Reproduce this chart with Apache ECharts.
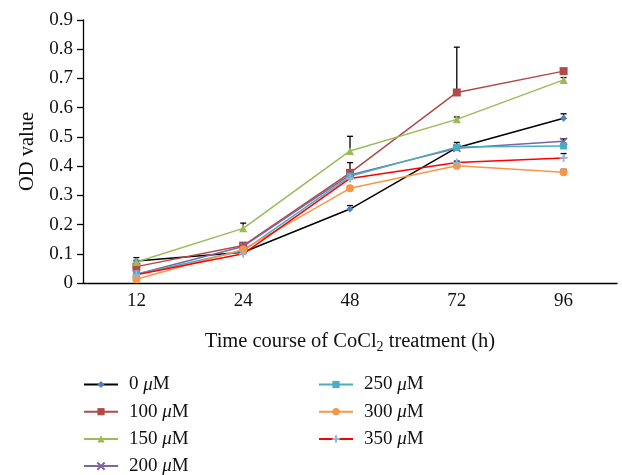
<!DOCTYPE html>
<html>
<head>
<meta charset="utf-8">
<script src="https://cdn.jsdelivr.net/npm/echarts@6/dist/echarts.min.js"></script>
<style>
  html, body { margin: 0; padding: 0; background: #fff; }
  #main { width: 622px; height: 475px; }
</style>
</head>
<body>
<div id="main"></div>
<script>
// time points (h)
var hours = ['12', '24', '48', '72', '96'];
var yTicks = [0, 0.1, 0.2, 0.3, 0.4, 0.5, 0.6, 0.7, 0.8, 0.9];

// OD values per CoCl2 dose
var od0   = [0.075, 0.105, 0.253, 0.463, 0.564];
var od100 = [0.056, 0.128, 0.377, 0.652, 0.725];
var od150 = [0.072, 0.187, 0.452, 0.560, 0.695];
var od200 = [0.030, 0.125, 0.370, 0.461, 0.485];
var od250 = [0.030, 0.110, 0.365, 0.465, 0.469];
var od300 = [0.013, 0.115, 0.324, 0.401, 0.379];
var od350 = [0.028, 0.100, 0.358, 0.412, 0.428];

// upper error (SD)
var err0   = [0.012, 0.005, 0.012, 0.018, 0.015];
var err100 = [0.005, 0.005, 0.035, 0.155, 0.008];
var err150 = [0.005, 0.018, 0.050, 0.008, 0.008];
var err200 = [0.004, 0.004, 0.008, 0.005, 0.008];
var err250 = [0.004, 0.004, 0.008, 0.008, 0.008];
var err300 = [0.004, 0.004, 0.008, 0.005, 0.010];
var err350 = [0.004, 0.004, 0.008, 0.005, 0.015];

var names = ['0 μM', '100 μM', '150 μM', '200 μM', '250 μM', '300 μM', '350 μM'];
var values = [od0, od100, od150, od200, od250, od300, od350];
var errors = [err0, err100, err150, err200, err250, err300, err350];

var lineColors = ['#000000', '#B04A47', '#9BBB59', '#8064A2', '#4BACC6', '#F79646', '#FF0000'];
var markColors = ['#4F81BD', '#B04A47', '#9BBB59', '#8064A2', '#4BACC6', '#F79646', '#95B3D7'];
var symbols = [
  'diamond', 'rect', 'triangle',
  'path://M0,0 L2,2 M2,0 L0,2',
  'rect', 'circle',
  'path://M1,0 L1,2 M0,1 L2,1'
];
var symbolSizes = [7, 8, 8, 7, 7, 8, 8];

var serif = '"Liberation Serif", "DejaVu Serif", serif';

var series = [];
// error bars first (drawn under the lines)
for (var i = 0; i < names.length; i++) {
  var ed = [];
  for (var k = 0; k < hours.length; k++) {
    ed.push([k, values[i][k], values[i][k] + errors[i][k]]);
  }
  series.push({
    type: 'custom',
    name: 'err' + i,
    data: ed,
    z: 1,
    silent: true,
    renderItem: function (params, api) {
      var p0 = api.coord([api.value(0), api.value(1)]);
      var p1 = api.coord([api.value(0), api.value(2)]);
      var style = { stroke: '#000', lineWidth: 1.3 };
      return {
        type: 'group',
        children: [
          { type: 'line', shape: { x1: p0[0], y1: p0[1], x2: p1[0], y2: p1[1] }, style: style },
          { type: 'line', shape: { x1: p1[0] - 3, y1: p1[1], x2: p1[0] + 3, y2: p1[1] }, style: style }
        ]
      };
    }
  });
}
for (var j = 0; j < names.length; j++) {
  var sym = symbols[j];
  var isPath = sym.indexOf('path://') === 0;
  series.push({
    type: 'line',
    name: names[j],
    data: values[j],
    z: 2,
    symbol: sym,
    symbolSize: symbolSizes[j],
    showSymbol: true,
    lineStyle: { color: lineColors[j], width: 1.5 },
    itemStyle: isPath
      ? { color: 'none', borderColor: markColors[j], borderWidth: 1.8 }
      : { color: markColors[j], borderColor: markColors[j], borderWidth: 0 },
    color: lineColors[j]
  });
}

var legendText = {
  fontFamily: serif,
  fontSize: 19,
  color: '#111',
  lineHeight: 19,
  padding: [0, 0, 0, 6],
  rich: { i: { fontFamily: serif, fontStyle: 'italic', fontSize: 19, color: '#111' } }
};
function legendFmt(n) { return n.replace('μ', '{i|μ}'); }

var chart = echarts.init(document.getElementById('main'));
chart.setOption({
  backgroundColor: '#fff',
  animation: false,
  grid: { left: 83, right: 5, top: 20, bottom: 192, containLabel: false },
  legend: [
    {
      orient: 'vertical', left: 83, top: 375, height: 120, padding: 0,
      itemWidth: 34, itemHeight: 9, itemGap: 8.2,
      data: names.slice(0, 4), formatter: legendFmt, textStyle: legendText
    },
    {
      orient: 'vertical', left: 318, top: 375, height: 120, padding: 0,
      itemWidth: 34, itemHeight: 9, itemGap: 8.2,
      data: names.slice(4), formatter: legendFmt, textStyle: legendText
    }
  ],
  xAxis: {
    type: 'category',
    data: hours,
    boundaryGap: true,
    name: '{a|Time course of CoCl}{s|2}{a| treatment (h)}',
    nameLocation: 'middle',
    nameGap: 46,
    nameTextStyle: {
      rich: {
        a: { fontFamily: serif, fontSize: 20.5, color: '#111' },
        s: { fontFamily: serif, fontSize: 14, color: '#111', padding: [11, 0, 0, 0] }
      }
    },
    axisLine: { lineStyle: { color: '#000', width: 1.3 } },
    axisTick: { alignWithLabel: true, length: 6, lineStyle: { color: '#000', width: 1.3 } },
    axisLabel: { fontFamily: serif, fontSize: 19, color: '#111', margin: 9 },
    splitLine: { show: false }
  },
  yAxis: {
    type: 'value',
    min: 0, max: 0.9, interval: 0.1,
    name: 'OD value',
    nameLocation: 'middle',
    nameGap: 40,
    nameTextStyle: { fontFamily: serif, fontSize: 20.5, color: '#111' },
    axisLine: { show: true, lineStyle: { color: '#000', width: 1.3 } },
    axisTick: { show: true, length: 6, lineStyle: { color: '#000', width: 1.3 } },
    axisLabel: {
      fontFamily: serif, fontSize: 19, color: '#111', margin: 10,
      formatter: function (v) {
        var t = yTicks.filter(function (x) { return Math.abs(x - v) < 1e-9; });
        return t.length ? (Math.round(v * 10) === 0 ? '0' : v.toFixed(1)) : '';
      }
    },
    splitLine: { show: false }
  },
  series: series
});
</script>
</body>
</html>
